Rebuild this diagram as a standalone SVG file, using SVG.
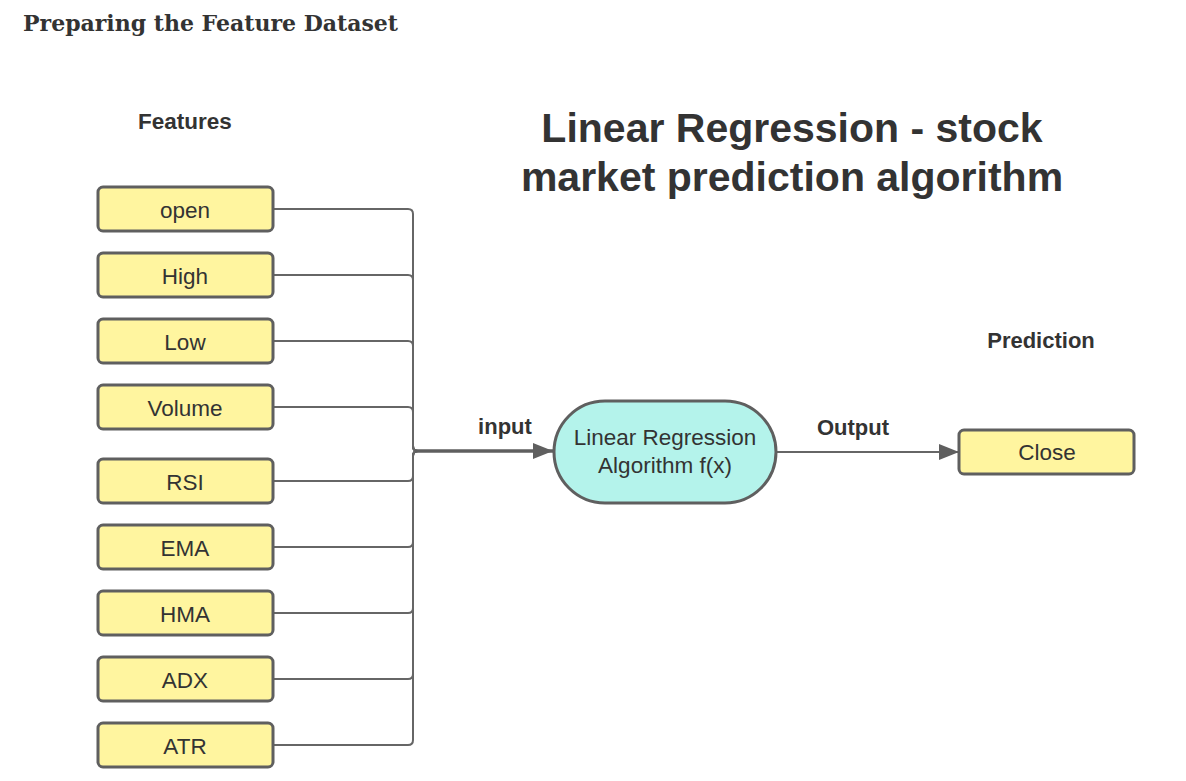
<svg xmlns="http://www.w3.org/2000/svg" width="1186" height="781" viewBox="0 0 1186 781">
<style>
.box{fill:#fff59f;stroke:#5f5f5f;stroke-width:3}
.term{fill:#b4f3eb;stroke:#5f5f5f;stroke-width:3}
.lbl{font-family:"Liberation Sans",Arial,sans-serif;font-size:22.5px;fill:#333;text-anchor:middle}
.bold{font-family:"Liberation Sans",Arial,sans-serif;font-weight:bold;fill:#333;text-anchor:middle}
.wire{fill:none;stroke:#666;stroke-width:2}
</style>
<defs>
<marker id="arrB" viewBox="0 0 20 16" refX="20" refY="8" markerWidth="20" markerHeight="16" markerUnits="userSpaceOnUse" orient="auto">
<path d="M0,0 L20,8 L0,16 z" fill="#5f5f5f"/>
</marker>
</defs>
<rect width="1186" height="781" fill="#fff"/>
<text x="23" y="31" font-family="Georgia,'DejaVu Serif','Liberation Serif',serif" font-weight="bold" font-size="22" fill="#333">Preparing the Feature Dataset</text>
<text x="185" y="129" class="bold" font-size="22.5">Features</text>
<text x="792" y="142" class="bold" font-size="41">Linear Regression - stock</text>
<text x="792" y="191" class="bold" font-size="41">market prediction algorithm</text>
<text x="1041" y="348" class="bold" font-size="22">Prediction</text>
<text x="505" y="434" class="bold" font-size="22">input</text>
<text x="853" y="435" class="bold" font-size="22">Output</text>
<g id="connectors">
<path class="wire" d="M273,209 H408 Q413,209 413,214 V446 Q413,451 418,451"/>
<path class="wire" d="M273,275 H408 Q413,275 413,280 V446 Q413,451 418,451"/>
<path class="wire" d="M273,341 H408 Q413,341 413,346 V446 Q413,451 418,451"/>
<path class="wire" d="M273,407 H408 Q413,407 413,412 V446 Q413,451 418,451"/>
<path class="wire" d="M273,481 H408 Q413,481 413,476 V456 Q413,451 418,451"/>
<path class="wire" d="M273,547 H408 Q413,547 413,542 V456 Q413,451 418,451"/>
<path class="wire" d="M273,613 H408 Q413,613 413,608 V456 Q413,451 418,451"/>
<path class="wire" d="M273,679 H408 Q413,679 413,674 V456 Q413,451 418,451"/>
<path class="wire" d="M273,745 H408 Q413,745 413,740 V456 Q413,451 418,451"/>
<path d="M415,451 H553" fill="none" stroke="#5f5f5f" stroke-width="3.5" marker-end="url(#arrB)"/>
<path class="wire" d="M776,452 H959" marker-end="url(#arrB)"/>
</g>
<g id="n-open"><rect class="box" x="98" y="187" width="175" height="44" rx="5"/><text class="lbl" x="185" y="218">open</text></g>
<g id="n-high"><rect class="box" x="98" y="253" width="175" height="44" rx="5"/><text class="lbl" x="185" y="284">High</text></g>
<g id="n-low"><rect class="box" x="98" y="319" width="175" height="44" rx="5"/><text class="lbl" x="185" y="350">Low</text></g>
<g id="n-volume"><rect class="box" x="98" y="385" width="175" height="44" rx="5"/><text class="lbl" x="185" y="416">Volume</text></g>
<g id="n-rsi"><rect class="box" x="98" y="459" width="175" height="44" rx="5"/><text class="lbl" x="185" y="490">RSI</text></g>
<g id="n-ema"><rect class="box" x="98" y="525" width="175" height="44" rx="5"/><text class="lbl" x="185" y="556">EMA</text></g>
<g id="n-hma"><rect class="box" x="98" y="591" width="175" height="44" rx="5"/><text class="lbl" x="185" y="622">HMA</text></g>
<g id="n-adx"><rect class="box" x="98" y="657" width="175" height="44" rx="5"/><text class="lbl" x="185" y="688">ADX</text></g>
<g id="n-atr"><rect class="box" x="98" y="723" width="175" height="44" rx="5"/><text class="lbl" x="185" y="754">ATR</text></g>
<g id="n-algo"><rect class="term" x="554" y="401" width="222" height="102" rx="51"/><text class="lbl" x="665" y="445">Linear Regression</text><text class="lbl" x="665" y="473">Algorithm f(x)</text></g>
<g id="n-close"><rect class="box" x="959" y="430" width="175" height="44" rx="5"/><text class="lbl" x="1047" y="460">Close</text></g>
</svg>
